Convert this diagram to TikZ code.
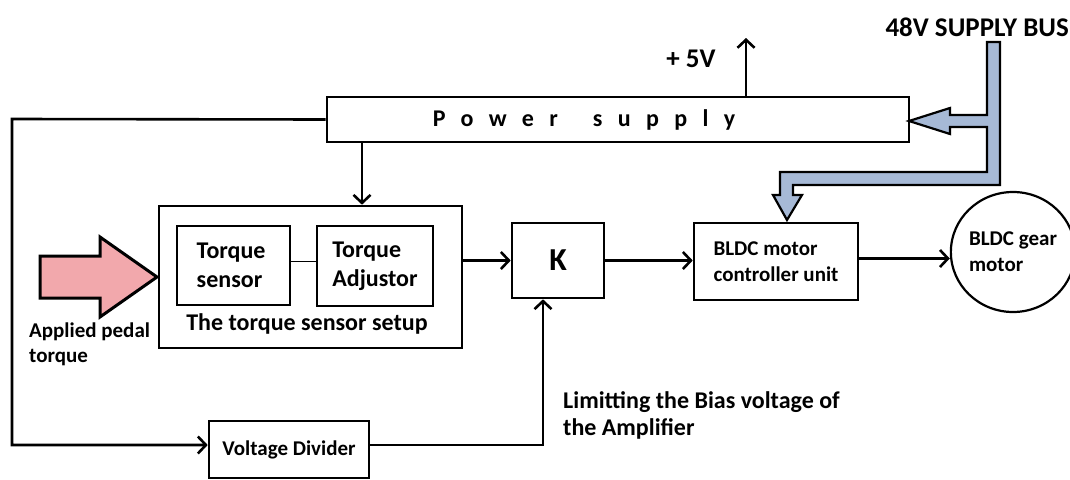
\documentclass[tikz,border=0pt]{standalone}
\usepackage{fontspec}
\setmainfont{Carlito}
\usetikzlibrary{arrows.meta,shapes.geometric}
\definecolor{pedalpink}{RGB}{242,168,172}
\definecolor{busblue}{RGB}{166,185,214}
\tikzset{
  wire/.style={line width=2.6pt},
  blockbox/.style={draw, line width=2.6pt, inner sep=0pt, align=left, font=\fontsize{21}{26}\selectfont\bfseries},
  innerbox/.style={draw, line width=1.3pt, inner sep=0pt, align=left, font=\fontsize{24}{29}\selectfont\bfseries},
  lbl/.style={inner sep=0pt, align=left, font=\fontsize{21}{25}\selectfont\bfseries},
}
\begin{document}
\begin{tikzpicture}[x=1pt, y=-1pt, >={Straight Barb[length=8pt,width=17pt]}]
            \useasboundingbox (0,0) rectangle (1070,479);

            \node[blockbox, minimum width=582pt, minimum height=45pt] (ps) at (618,119.5) {};
            \node[lbl, font=\fontsize{24}{28}\selectfont\bfseries\addfontfeature{LetterSpace=64}] (pstext) at (584,120) {Power\hspace*{35pt}supply};

            \node[blockbox, minimum width=303pt, minimum height=142pt] (tss) at (310.5,277) {};
            \node[innerbox, minimum width=113pt, minimum height=79pt] (tsen) at (233.5,265.5) {Torque\\sensor\hspace*{8pt}};
            \node[innerbox, minimum width=116pt, minimum height=80pt] (tadj) at (375,266) {Torque\\Adjustor};
            \node[lbl, font=\fontsize{24}{28}\selectfont\bfseries] (tsslabel) at (307,324) {The torque sensor setup};

            \node[blockbox, minimum width=92pt, minimum height=75pt, font=\fontsize{32}{36}\selectfont\bfseries] (k) at (558,260.5) {K};
            \node[blockbox, minimum width=164pt, minimum height=77pt] (bldc) at (776,261.5) {BLDC motor\\controller unit};
            \node[ellipse, draw, line width=2.2pt, minimum width=112pt, minimum height=120pt, inner sep=0pt, align=left, font=\fontsize{21}{26}\selectfont\bfseries] (motor) at (1013,252) {BLDC gear\\motor};
            \node[blockbox, minimum width=160pt, minimum height=57pt] (vd) at (289,449.5) {Voltage Divider};

            \node[lbl, anchor=west] (pedal) at (29,344) {Applied pedal\\torque};
            \node[lbl, anchor=west, font=\fontsize{24}{27}\selectfont\bfseries] (bias) at (563,415) {Limitting the Bias voltage of\\the Amplifier};
            \node[lbl, font=\fontsize{27}{30}\selectfont\bfseries] (v5label) at (691,59) {+ 5V};
            \node[lbl, anchor=east, font=\fontsize{27}{31}\selectfont\bfseries] (bus) at (1069,27) {48V SUPPLY BUS};

            % pedal torque input
            \fill[pedalpink] (40,256) -- (100,256) -- (100,237) -- (157,277) -- (100,317) -- (100,298) -- (40,298) -- cycle;
            \draw[black, line width=3pt, line join=miter] (40,256) -- (100,256) -- (100,237) -- (157,277) -- (100,317) -- (100,298) -- (40,298) -- cycle;

            % 48V bus
            \draw[draw=black, line width=2.2pt, fill=busblue, line join=miter] (987,42) -- (1000,42) -- (1000,185) -- (793,185) -- (793,195) -- (802,195) -- (787,220) -- (773,195) -- (780,195) -- (780,172) -- (987,172) -- (987,127) -- (950,127) -- (950,134) -- (909,121) -- (950,108) -- (950,115) -- (987,115) -- cycle;

            \coordinate (lc) at (12,119);
            \coordinate (psd) at (362,142);
            \coordinate (v5) at (746,38);

            \draw[wire, ->] (ps.west) -- (lc) |- ([yshift=4.5pt]vd.west);
            \draw[wire, ->] ([yshift=4.5pt]vd.east) -| ([xshift=-15pt]k.south);
            \draw[wire, ->] (psd) -- (psd |- tss.north);
            \draw[wire, ->] (v5 |- ps.north) -- (v5);
            \draw[line width=0.8pt] ([yshift=4.5pt]tsen.east) -- ([yshift=4.5pt]tsen.east -| tadj.west);
            \draw[wire, ->] (tss.east |- k.west) -- (k.west);
            \draw[wire, ->] (k.east) -- (k.east -| bldc.west);
            \draw[wire, ->] ([yshift=3pt]bldc.east) -- ([yshift=3pt]bldc.east -| motor.west);

        \end{tikzpicture}
\end{document}
